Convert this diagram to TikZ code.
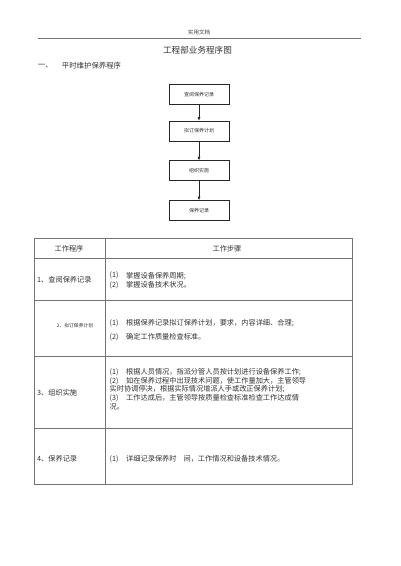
\documentclass[tikz,border=0pt]{standalone}
\usepackage{fontspec}
\newfontfamily\cjk{Noto Sans CJK SC}
\usetikzlibrary{arrows.meta}
\tikzset{
  txt/.style={inner sep=0pt, font=\cjk\fontsize{7.2}{8}\selectfont, text=black!80},
  smalltxt/.style={inner sep=0pt, font=\cjk\fontsize{4.8}{6}\selectfont, text=black!80},
  flowbox/.style={draw=black!85, line width=0.6pt, minimum width=60pt, minimum height=20pt, inner sep=0pt, font=\cjk\fontsize{5}{6}\selectfont, text=black!80},
  flowarrow/.style={-{Latex[length=3.5pt,width=3pt]}, line width=0.6pt, draw=black!85},
  tline/.style={draw=black!55, line width=0.7pt}
}
\begin{document}
\begin{tikzpicture}[x=1pt,y=-1pt]
\useasboundingbox[fill=white] (0,0) rectangle (400,566);
% page header
\node[inner sep=0pt, font=\cjk\fontsize{5.5}{6}\selectfont, text=black!75] (hdr) at (199,32) {实用文档};
\draw[draw=black!55, line width=0.8pt] (37.5,38.5) -- (361,38.5);
% title
\node[inner sep=0pt, font=\cjk\fontsize{8.6}{10}\selectfont, text=black!80] (title) at (197.5,50) {工程部业务程序图};
\node[inner sep=0pt, anchor=west, font=\cjk\fontsize{7.4}{8}\selectfont, text=black!80] (sec) at (37.7,66) {一、};
\node[inner sep=0pt, anchor=west, font=\cjk\fontsize{7.4}{8}\selectfont, text=black!80] (sectitle) at (61.7,66) {平时维护保养程序};
% flowchart
\node[flowbox] (b1) at (199,94.3) {查阅保养记录};
\node[flowbox] (b2) at (199,131) {拟订保养计划};
\node[flowbox] (b3) at (199,170.7) {组织实施};
\node[flowbox] (b4) at (199,210.5) {保养记录};
\draw[flowarrow] (b1) -- (b2);
\draw[flowarrow] (b2) -- (b3);
\draw[flowarrow] (b3) -- (b4);
% table grid
\draw[tline] (34.7,238.3) rectangle (352.3,484);
\draw[tline] (105.7,238.3) -- (105.7,484);
\draw[tline] (34.7,258.3) -- (352.3,258.3);
\draw[tline] (34.7,300) -- (352.3,300);
\draw[tline] (34.7,356.7) -- (352.3,356.7);
\draw[tline] (34.7,428.3) -- (352.3,428.3);
% header row
\node[txt] (h1) at (69,248.3) {工作程序};
\node[txt] (h2) at (227,248.3) {工作步骤};
% row 1
\node[txt, anchor=west] (r1l) at (37,280) {1、查阅保养记录};
\node[txt, anchor=west] (r1n1) at (109.5,275.7) {(1)};
\node[txt, anchor=west] (r1t1) at (126,275.7) {掌握设备保养周期;};
\node[txt, anchor=west] (r1n2) at (109.5,284.8) {(2)};
\node[txt, anchor=west] (r1t2) at (126,284.8) {掌握设备技术状况。};
% row 2
\node[smalltxt, anchor=west] (r2l) at (56.7,326) {2、拟订保养计划};
\node[txt, anchor=west] (r2n1) at (109.5,323.5) {(1)};
\node[txt, anchor=west] (r2t1) at (126,323.5) {根据保养记录拟订保养计划，要求，内容详细、合理;};
\node[txt, anchor=west] (r2n2) at (109.5,337) {(2)};
\node[txt, anchor=west] (r2t2) at (126,337) {确定工作质量检查标准。};
% row 3
\node[txt, anchor=west] (r3l) at (37,392.7) {3、组织实施};
\node[txt, anchor=west] (r3n1) at (109.5,372) {(1)};
\node[txt, anchor=west] (r3t1) at (126,372) {根据人员情况，指派分管人员按计划进行设备保养工作;};
\node[txt, anchor=west] (r3n2) at (109.5,381.2) {(2)};
\node[txt, anchor=west] (r3t2) at (126,381.2) {如在保养过程中出现技术问题，使工作量加大，主管领导};
\node[txt, anchor=west] (r3t2b) at (109.5,389.5) {实时协调停决，根据实际情况增派人手或改正保养计划;};
\node[txt, anchor=west] (r3n3) at (109.5,398.3) {(3)};
\node[txt, anchor=west] (r3t3) at (126,398.3) {工作达成后，主管领导按质量检查标准检查工作达成情};
\node[txt, anchor=west] (r3t3b) at (109.5,406.5) {况。};
% row 4
\node[txt, anchor=west] (r4l) at (37,459) {4、保养记录};
\node[txt, anchor=west] (r4n1) at (109.5,459) {(1)};
\node[txt, anchor=west] (r4t1) at (126,459) {详细记录保养时\hspace{7pt}间，工作情况和设备技术情况。};
\end{tikzpicture}
\end{document}
